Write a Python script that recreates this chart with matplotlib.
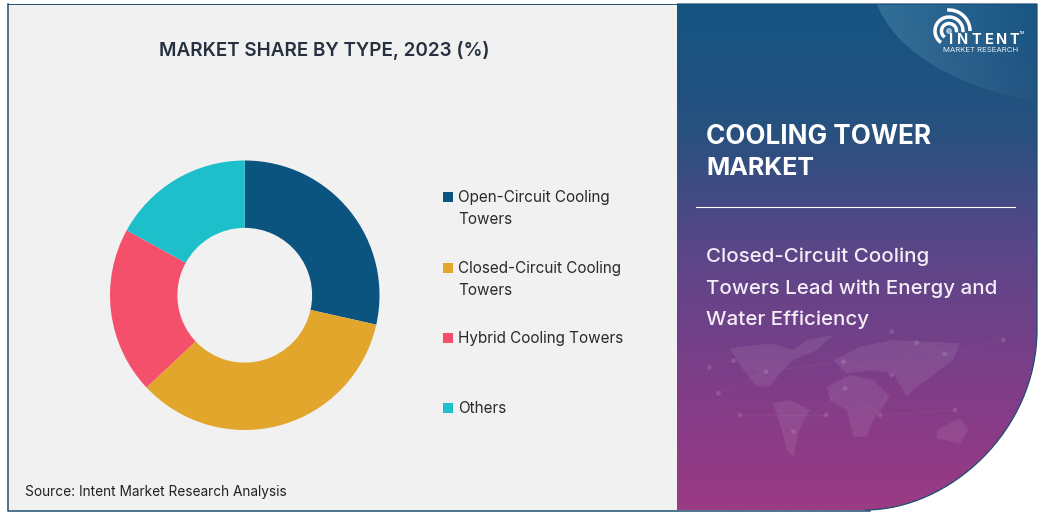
import numpy as np
import matplotlib
matplotlib.use("Agg")
import matplotlib.pyplot as plt
from matplotlib.patches import Rectangle, Polygon, PathPatch, Circle
from matplotlib.path import Path
from matplotlib.colors import LinearSegmentedColormap

categories = ["Open-Circuit Cooling\nTowers", "Closed-Circuit Cooling\nTowers", "Hybrid Cooling Towers", "Others"]
shares = [28.5, 34.5, 20.0, 17.0]
colors = ["#0b5480", "#e3a62c", "#f4506c", "#1cbfca"]
title = "MARKET SHARE BY TYPE, 2023 (%)"
source = "Source: Intent Market Research Analysis"
headline = ["COOLING TOWER", "MARKET"]
subline = ["Closed-Circuit Cooling", "Towers Lead with Energy and", "Water Efficiency"]

W, H = 1043, 513
FONT = "Inter"
fig = plt.figure(figsize=(W/100, H/100), dpi=100, facecolor="white")
bg = fig.add_axes([0, 0, 1, 1])
bg.set_xlim(0, W); bg.set_ylim(H, 0); bg.axis("off")
EDGE = "#1f4e70"

# left panel
bg.add_patch(Rectangle((7.5, 3.5), 670, 507, fc="#f1f1f1", ec="none"))
bg.plot([7.5, 7.5, 870], [3.5, 510.5, 510.5], color=EDGE, lw=1.1, zorder=4)
bg.plot([7.5, 677], [3.5, 3.5], color=EDGE, lw=0.7, zorder=4)

# right panel gradient, clipped to a curved corner
grad = LinearSegmentedColormap.from_list("g", ["#155482", "#27517f", "#5d4688", "#7f3d88", "#9c3a85"])
im = bg.imshow(np.linspace(0, 1, 256)[:, None], extent=(677, 1037, 510, 4), cmap=grad,
               aspect="auto", zorder=1)
verts = [(677, 4), (1037, 4), (1037, 330), (1037, 430), (950, 510), (865, 510), (677, 510), (677, 4)]
codes = [Path.MOVETO, Path.LINETO, Path.LINETO, Path.CURVE4, Path.CURVE4, Path.CURVE4, Path.LINETO, Path.CLOSEPOLY]
clip = PathPatch(Path(verts, codes), fc="none", ec="none", transform=bg.transData)
bg.add_patch(clip)
im.set_clip_path(clip)
edge_v = [(677, 4), (1037, 4), (1037, 330), (1037, 430), (950, 510), (865, 510)]
edge_c = [Path.MOVETO, Path.LINETO, Path.LINETO, Path.CURVE4, Path.CURVE4, Path.CURVE4]
bg.add_patch(PathPatch(Path(edge_v, edge_c), fc="none", ec=EDGE, lw=0.9, zorder=3))

# lighter swoosh at top right, fading towards the right
arc_v = [(877, 4), (892, 45), (945, 85), (1037, 102), (1037, 4), (877, 4)]
arc_c = [Path.MOVETO, Path.CURVE4, Path.CURVE4, Path.CURVE4, Path.LINETO, Path.CLOSEPOLY]
arc_clip = PathPatch(Path(arc_v, arc_c), fc="none", ec="none", transform=bg.transData)
bg.add_patch(arc_clip)
rgba = np.zeros((2, 256, 4))
rgba[..., :3] = matplotlib.colors.to_rgb("#5d96b8")
rgba[..., 3] = np.linspace(0.42, 0.04, 256)
sw = bg.imshow(rgba, extent=(877, 1037, 102, 4), aspect="auto", zorder=2)
sw.set_clip_path(arc_clip)
bg.set_xlim(0, W); bg.set_ylim(H, 0)

# faint world map (crop coordinates read from a 3x zoom at origin 660,330)
def mp(pts):
    return [(660 + x/3, 330 + y/3) for x, y in pts]
continents = [
    [(210,55),(330,40),(400,60),(440,30),(520,15),(470,60),(400,90),(360,130),(330,170),(290,170),(250,120)],
    [(340,220),(390,210),(450,240),(420,290),(400,380),(380,360),(365,300)],
    [(520,90),(600,50),(700,30),(900,40),(880,90),(800,150),(770,170),(740,200),(700,130),(640,120),(560,130)],
    [(500,170),(570,135),(640,150),(690,200),(640,270),(620,320),(580,320),(560,240),(510,210)],
    [(830,300),(900,265),(925,300),(900,340),(830,325)],
]
for c in continents:
    bg.add_patch(Polygon(mp(c), closed=True, fc="white", ec="none", alpha=0.08, zorder=2))
nodes = mp([(175,190),(148,112),(220,92),(240,255),(498,255),(400,305),(550,95),(695,135),
            (660,255),(885,240),(770,38),(1030,30),(695,5),(855,72),(318,125),(555,175)])
links = [(0,3),(0,14),(1,2),(2,14),(3,4),(4,5),(4,6),(6,7),(7,8),(7,10),(7,13),(8,9),(10,13),(13,11),(6,15),(15,8),(5,15),(12,10),(14,6)]
for a, b in links:
    bg.plot([nodes[a][0], nodes[b][0]], [nodes[a][1], nodes[b][1]], color="white", lw=0.4, alpha=0.07, zorder=2)
for x, y in nodes:
    bg.add_patch(Circle((x, y), 2.4, fc="white", ec="none", alpha=0.12, zorder=2))

# donut
ax = fig.add_axes([110/W, 1-430/H, 269.5/W, 269.5/H])
ax.pie(shares, colors=colors, startangle=90, counterclock=False, radius=1.0,
       wedgeprops=dict(width=0.5, linewidth=0))
ax.set_xlim(-1, 1); ax.set_ylim(-1, 1)

# title and source
bg.text(324, 50, title, ha="center", va="center", fontsize=13.6, fontweight="semibold",
        family=FONT, color="#26303f", zorder=5)
bg.text(25, 492, source, ha="left", va="center", fontsize=9.85, family=FONT, color="#222222", zorder=5)

# legend
leg_y = [197, 268, 338, 408]
for lab, col, y in zip(categories, colors, leg_y):
    bg.add_patch(Rectangle((443, y-5), 10, 10, fc=col, ec="none", zorder=5))
    for i, line in enumerate(lab.split("\n")):
        bg.text(458, y + 0.7 + i*22, line, ha="left", va="center", fontsize=11.0, family=FONT, color="#2a2a2a", zorder=5)

# right text
for txt, y, fs in zip(headline, [135, 167], [18.8, 18.0]):
    bg.text(706, y + 1.5, txt, ha="left", va="center", fontsize=fs, fontweight="bold",
            family=FONT, color="white", zorder=5)
bg.plot([696, 1015], [206.5, 206.5], color="white", lw=0.8, zorder=5)
for i, line in enumerate(subline):
    bg.text(706, 257 + i*31.5, line, ha="left", va="center", fontsize=14.75, fontweight="medium",
            family=FONT, color="#f4eef6", zorder=5)

# logo
cx, cy = 949, 31
for r, t1, t2 in [(7.5, -10, 235), (14, -5, 235), (21, 0, 95)]:
    t = np.radians(np.linspace(t1, t2, 60))
    bg.plot(cx + r*np.cos(t), cy - r*np.sin(t), color="white", lw=2.5, zorder=6, solid_capstyle="butt")
bg.add_patch(Circle((cx, cy), 3, fc="#9fc0d8", ec="none", zorder=6))
for ch, x in zip("INTENT", [951, 963, 976, 989, 1002, 1014]):
    bg.text(x, 40.5, ch, ha="center", va="center", fontsize=10.5, fontweight="bold",
            family=FONT, color="white", zorder=7)
bg.text(981, 50, "MARKET RESEARCH", ha="center", va="center", fontsize=5.6, family=FONT,
        color="#e8eef4", zorder=7)
bg.text(1022, 33, "TM", ha="center", va="center", fontsize=3, family=FONT, color="white", zorder=7)

fig.savefig("out.png", dpi=100, facecolor="white")
